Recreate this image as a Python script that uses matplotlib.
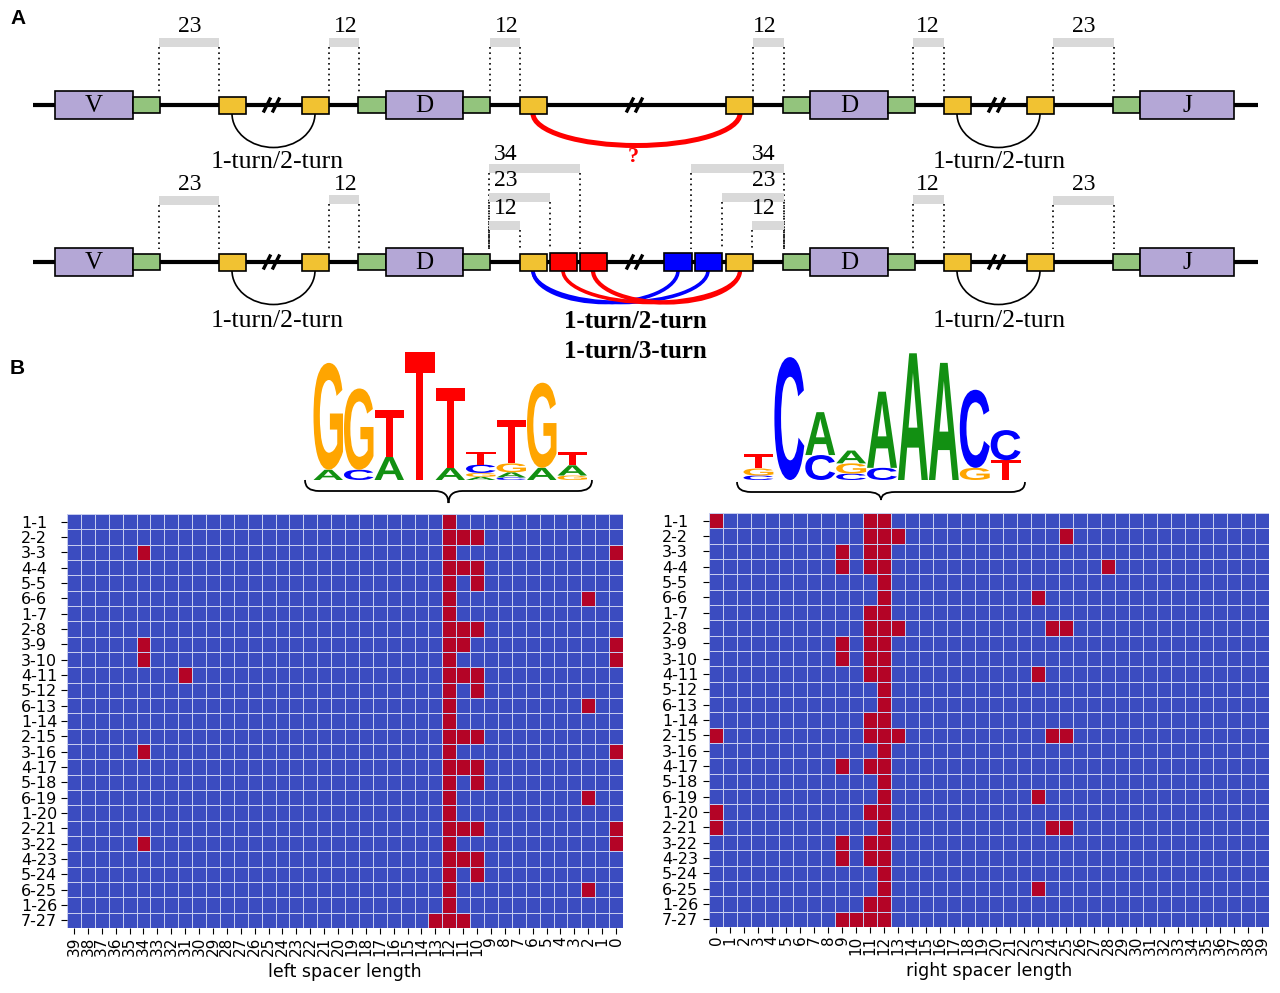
import numpy as np
import matplotlib
matplotlib.use("Agg")
import matplotlib.pyplot as plt
from matplotlib.colors import ListedColormap
from matplotlib.patches import Rectangle, Arc, PathPatch
from matplotlib.path import Path
from matplotlib.textpath import TextPath
from matplotlib.font_manager import FontProperties
from matplotlib.transforms import Affine2D

# ---------------- heatmap data ----------------
row_labels = ["1-1", "2-2", "3-3", "4-4", "5-5", "6-6", "1-7", "2-8", "3-9",
              "3-10", "4-11", "5-12", "6-13", "1-14", "2-15", "3-16", "4-17",
              "5-18", "6-19", "1-20", "2-21", "3-22", "4-23", "5-24", "6-25",
              "1-26", "7-27"]
left_cols = list(range(39, -1, -1))
right_cols = list(range(0, 40))

# spacer lengths marked (red) for each row
left_hits = [[12], [12, 11, 10], [34, 12, 0], [12, 11, 10], [12, 10], [12, 2],
             [12], [12, 11, 10], [34, 12, 11, 0], [34, 12, 0], [31, 12, 11, 10],
             [12, 10], [12, 2], [12], [12, 11, 10], [34, 12, 0], [12, 11, 10],
             [12, 10], [12, 2], [12], [12, 11, 10, 0], [34, 12, 0], [12, 11, 10],
             [12, 10], [12, 2], [12], [13, 12, 11]]
right_hits = [[0, 11, 12], [11, 12, 13, 25], [9, 11, 12], [9, 11, 12, 28], [12],
              [12, 23], [11, 12], [11, 12, 13, 24, 25], [9, 11, 12], [9, 11, 12],
              [11, 12, 23], [12], [12], [11, 12], [0, 11, 12, 13, 24, 25], [12],
              [9, 11, 12], [12], [12, 23], [0, 11, 12], [0, 12, 24, 25],
              [9, 11, 12], [9, 11, 12], [12], [12, 23], [11, 12], [9, 10, 11, 12]]

# ---------------- sequence logos (bits, bottom -> top) ----------------
left_logo = [[("A", 0.16), ("G", 1.67)],
             [("C", 0.16), ("G", 1.27)],
             [("A", 0.36), ("T", 0.73)],
             [("T", 2.0)],
             [("A", 0.19), ("T", 1.25)],
             [("A", 0.05), ("G", 0.06), ("C", 0.13), ("T", 0.2)],
             [("C", 0.04), ("A", 0.08), ("G", 0.14), ("T", 0.67)],
             [("A", 0.19), ("G", 1.33)],
             [("G", 0.07), ("A", 0.16), ("T", 0.2)]]
right_logo = [[("C", 0.07), ("G", 0.11), ("T", 0.22)],
              [("C", 1.92)],
              [("C", 0.39), ("A", 0.67)],
              [("C", 0.1), ("G", 0.16), ("A", 0.2)],
              [("C", 0.19), ("A", 1.19)],
              [("A", 1.98)],
              [("A", 1.83)],
              [("G", 0.19), ("C", 1.22)],
              [("T", 0.31), ("C", 0.47)]]
base_colors = {"A": "#129012", "C": "#0000ff", "G": "#ffa500", "T": "#ff0000"}

# ---------------- panel A schematic ----------------
rows_y = [105, 262]
row_common = [("V", 55, 133), ("green", 133, 160), ("yellow", 219, 246),
              ("yellow", 302, 329), ("green", 358, 386), ("D", 386, 463),
              ("green", 463, 490), ("yellow", 520, 547), ("yellow", 726, 753),
              ("green", 783, 810), ("D", 810, 888), ("green", 888, 915),
              ("yellow", 944, 971), ("yellow", 1027, 1054), ("green", 1113, 1140),
              ("J", 1140, 1234)]
row2_extra = [("red", 550, 577), ("red", 580, 607), ("blue", 664, 692), ("blue", 695, 722)]
breaks_x = [272, 635, 997]

# (row, label, x0, x1, bar center y, label x, label y)
spacers = [(0, "23", 159, 219, 42, 190, 27), (0, "12", 329, 359, 42, 346, 27),
           (0, "12", 490, 520, 42, 507, 27), (0, "12", 753, 784, 42, 765, 27),
           (0, "12", 913, 944, 42, 928, 27), (0, "23", 1053, 1114, 42, 1084, 27),
           (1, "23", 159, 219, 200, 190, 184), (1, "12", 329, 359, 199, 346, 184),
           (1, "34", 489, 580, 168, 506, 154), (1, "23", 489, 550, 197, 506, 181),
           (1, "12", 489, 520, 225, 506, 209), (1, "34", 691, 784, 168, 764, 154),
           (1, "23", 722, 784, 197, 764, 181), (1, "12", 752, 784, 225, 764, 209),
           (1, "12", 913, 944, 199, 928, 184), (1, "23", 1053, 1114, 200, 1084, 184)]

# pairing arcs: (row, x_from, x_to, color, lw)
arcs = [(0, 232, 315, "black", 1.2), (0, 957, 1040, "black", 1.2),
        (0, 533, 740, "#ff0000", 3.6),
        (1, 232, 315, "black", 1.2), (1, 957, 1040, "black", 1.2),
        (1, 533, 678, "#0000ff", 2.6), (1, 533, 708, "#0000ff", 2.6),
        (1, 563, 740, "#ff0000", 2.6), (1, 593, 740, "#ff0000", 3.0)]

fills = {"V": "#b4a7d6", "D": "#b4a7d6", "J": "#b4a7d6", "green": "#93c47d",
         "yellow": "#f1c232", "red": "#ff0000", "blue": "#0000ff"}
heights = {"V": 28, "D": 28, "J": 28, "green": 16, "yellow": 17, "red": 18, "blue": 18}
serif = "Liberation Serif"

fig = plt.figure(figsize=(12.8, 9.93), dpi=100)
ax = fig.add_axes([0, 0, 1, 1])
ax.set_xlim(0, 1280)
ax.set_ylim(993, 0)
ax.axis("off")

ax.text(10, 18, "A", fontsize=15, fontweight="bold", family="Liberation Sans", va="center")
ax.text(10, 369, "B", fontsize=15, fontweight="bold", family="Liberation Sans", va="center")

for r, ry in enumerate(rows_y):
    ax.plot([33, 1258], [ry, ry], color="black", lw=3, solid_capstyle="butt", zorder=1)
    for bx in breaks_x:
        ax.plot([bx - 8, bx - 2], [ry + 6, ry - 6], color="black", lw=2.4, zorder=2)
        ax.plot([bx + 1, bx + 7], [ry + 6, ry - 6], color="black", lw=2.4, zorder=2)
    elems = row_common + (row2_extra if r == 1 else [])
    for kind, x0, x1 in elems:
        h = heights[kind]
        ax.add_patch(Rectangle((x0, ry - h / 2), x1 - x0, h, fc=fills[kind],
                               ec="black", lw=1.2, zorder=4))
        if kind in ("V", "D", "J"):
            ax.text((x0 + x1) / 2, ry + 1, kind, fontsize=18, family=serif,
                    ha="center", va="center", zorder=5)

for r, lab, x0, x1, by, lx, ly in spacers:
    ry = rows_y[r]
    ax.add_patch(Rectangle((x0, by - 4.5), x1 - x0, 9, fc="#d9d9d9", ec="none", zorder=3))
    for xx in (x0, x1):
        ax.plot([xx, xx], [by + 4.5, ry - 13], color="black", lw=1.2,
                ls=(0, (1, 2.2)), zorder=3)
    ax.text(lx, ly, lab, fontsize=17, family=serif, ha="center", va="center", zorder=5)

for r, xa, xb, col, lw in arcs:
    top = rows_y[r] + 8.5
    depth = 34 if col == "black" else 32
    ax.add_patch(Arc(((xa + xb) / 2, top), xb - xa, 2 * depth, theta1=0, theta2=180,
                     color=col, lw=lw, zorder=3))

for tx, ty in [(277, 162), (999, 162), (277, 321), (999, 321)]:
    ax.text(tx, ty, "1-turn/2-turn", fontsize=18.5, family=serif, ha="center", va="center")
ax.text(635, 321, "1-turn/2-turn", fontsize=18, family=serif, fontweight="bold",
        ha="center", va="center")
ax.text(635, 351, "1-turn/3-turn", fontsize=18, family=serif, fontweight="bold",
        ha="center", va="center")
ax.text(633, 157, "?", fontsize=16, family=serif, fontweight="bold", color="#ff0000",
        ha="center", va="center")

# ---------------- logos ----------------
logo_font = FontProperties(family="Liberation Sans", weight="bold")


def draw_letter(letter, x, ybot, w, h, color):
    tp = TextPath((0, 0), letter, size=1, prop=logo_font)
    bb = tp.get_extents()
    tr = Affine2D().translate(-bb.x0, -bb.y0).scale(w / bb.width, -h / bb.height).translate(x, ybot)
    ax.add_patch(PathPatch(tr.transform_path(tp), fc=color, ec="none", zorder=5))


def draw_logo(logo, x_start, col_w, base_y, px_per_bit):
    for i, stack in enumerate(logo):
        y = base_y
        for letter, bits in stack:
            h = bits * px_per_bit
            draw_letter(letter, x_start + i * col_w + 0.5, y, col_w - 1, h, base_colors[letter])
            y -= h


def draw_brace(x0, x1, y0, ym, yt, r=14):
    xc = (x0 + x1) / 2
    verts = [(x0, y0), (x0, ym), (x0 + r, ym), (xc - r, ym), (xc, ym), (xc, yt),
             (xc, ym), (xc + r, ym), (x1 - r, ym), (x1, ym), (x1, y0)]
    codes = [Path.MOVETO, Path.CURVE3, Path.CURVE3, Path.LINETO, Path.CURVE3, Path.CURVE3,
             Path.CURVE3, Path.CURVE3, Path.LINETO, Path.CURVE3, Path.CURVE3]
    ax.add_patch(PathPatch(Path(verts, codes), fc="none", ec="black", lw=1.3))


draw_logo(left_logo, 313, 30.5, 480, 64)
draw_logo(right_logo, 743, 30.9, 480, 64)
draw_brace(305, 592, 480, 491, 503)
draw_brace(737, 1025, 482, 492, 500)

# ---------------- heatmaps ----------------
cmap = ListedColormap(["#3b4cc0", "#b40426"])


def draw_heatmap(rect, hits, cols, xlabel, pad):
    hax = fig.add_axes(rect)
    mat = np.zeros((len(row_labels), len(cols)))
    for i, hs in enumerate(hits):
        for c in hs:
            mat[i, cols.index(c)] = 1
    hax.pcolormesh(mat, cmap=cmap, vmin=0, vmax=1, edgecolors="#c5cbee", linewidth=0.6)
    hax.set_xlim(0, len(cols))
    hax.set_ylim(len(row_labels), 0)
    hax.set_xticks(np.arange(len(cols)) + 0.5)
    hax.set_xticklabels([str(c) for c in cols], rotation=90, fontsize=11)
    hax.set_yticks(np.arange(len(row_labels)) + 0.5)
    hax.set_yticklabels(row_labels, fontsize=11.5, ha="left")
    hax.tick_params(axis="y", pad=pad, length=4)
    hax.tick_params(axis="x", length=4, pad=2)
    for s in hax.spines.values():
        s.set_visible(False)
    hax.set_xlabel(xlabel, fontsize=12.5, labelpad=5)


draw_heatmap([67 / 1280, 1 - 928 / 993, 556 / 1280, 414 / 993], left_hits, left_cols,
             "left spacer length", 29)
draw_heatmap([709 / 1280, 1 - 927 / 993, 560 / 1280, 414 / 993], right_hits, right_cols,
             "right spacer length", 30)

fig.savefig("out.png", dpi=100)
